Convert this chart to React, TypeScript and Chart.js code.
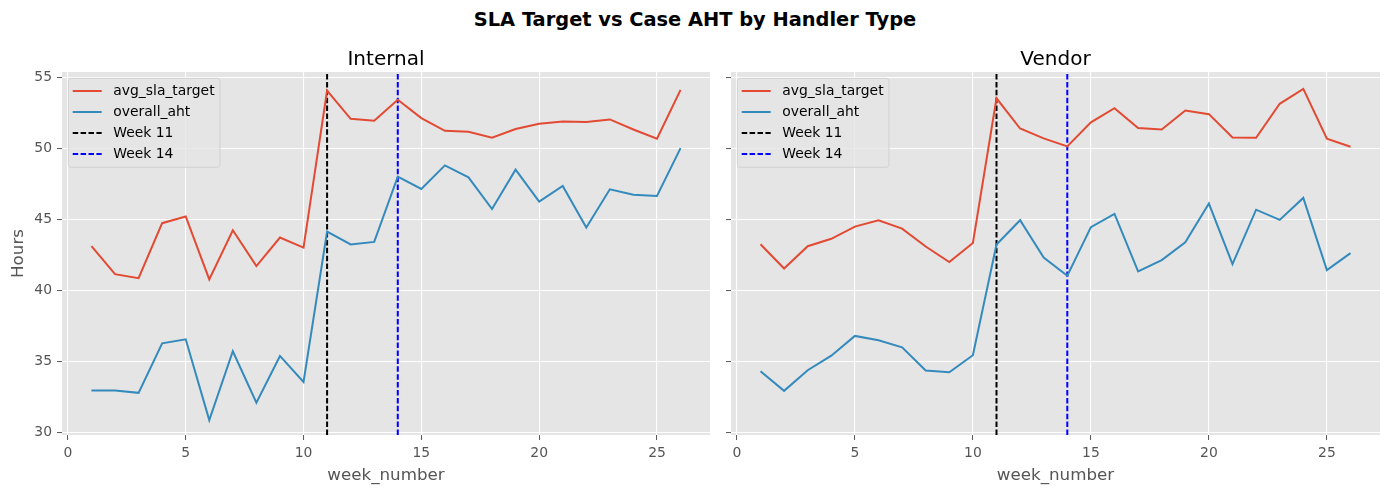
import React, { useRef, useEffect } from 'react';
import Chart from 'chart.js/auto';

// weekly values
const weeks = [1, 2, 3, 4, 5, 6, 7, 8, 9, 10, 11, 12, 13, 14, 15, 16, 17, 18, 19, 20, 21, 22, 23, 24, 25, 26];

const internalSla = [43.1, 41.13, 40.85, 44.72, 45.19, 40.76, 44.22, 41.7, 43.71, 43.0, 54.06, 52.07, 51.93, 53.41,
  52.12, 51.23, 51.16, 50.74, 51.35, 51.72, 51.89, 51.84, 52.03, 51.32, 50.67, 54.11];
const internalAht = [32.93, 32.93, 32.77, 36.26, 36.54, 30.85, 35.7, 32.07, 35.37, 33.54, 44.13, 43.22, 43.4, 48.0,
  47.13, 48.79, 47.95, 45.72, 48.49, 46.24, 47.34, 44.41, 47.11, 46.73, 46.64, 50.01];

const vendorSla = [43.24, 41.53, 43.1, 43.62, 44.48, 44.93, 44.34, 43.08, 41.98, 43.33, 53.52, 51.39, 50.69, 50.13,
  51.82, 52.82, 51.42, 51.32, 52.66, 52.4, 50.76, 50.74, 53.13, 54.18, 50.67, 50.1];
const vendorAht = [34.29, 32.91, 34.36, 35.39, 36.78, 36.47, 35.98, 34.34, 34.22, 35.42, 43.22, 44.93, 42.3, 41.02,
  44.44, 45.37, 41.32, 42.12, 43.38, 46.1, 41.84, 45.67, 44.95, 46.5, 41.42, 42.61];

const xTicks = [0, 5, 10, 15, 20, 25];
const yTicks = [30, 35, 40, 45, 50, 55];

const markerWeeks = [11, 14];
const markerLabels = ['Week 11', 'Week 14'];
const markerColors = ['#000000', '#0000FF'];

const X_MIN = -0.25;
const X_MAX = 27.25;
const Y_MIN = 29.8;
const Y_MAX = 55.37;

const FONT = 'DejaVu Sans';

const decorPlugin = (title: string, showYTitle: boolean) => ({
  id: 'decor',
  beforeDraw(chart: any) {
    const { ctx, chartArea: a } = chart;
    ctx.save();
    ctx.fillStyle = '#E5E5E5';
    ctx.fillRect(a.left, a.top, a.right - a.left, a.bottom - a.top);
    ctx.restore();
  },
  afterDraw(chart: any) {
    const { ctx, chartArea: a } = chart;
    const cx = (a.left + a.right) / 2;
    ctx.save();
    ctx.textAlign = 'center';
    ctx.textBaseline = 'middle';

    // panel title
    ctx.fillStyle = '#000';
    ctx.font = `20px "${FONT}"`;
    ctx.fillText(title, cx, 59.5);

    // axis labels
    ctx.fillStyle = '#555555';
    ctx.font = `16.7px "${FONT}"`;
    ctx.fillText('week_number', cx, 475.5);
    if (showYTitle) {
      ctx.save();
      ctx.translate(19, (a.top + a.bottom) / 2);
      ctx.rotate(-Math.PI / 2);
      ctx.fillText('Hours', 0, 0);
      ctx.restore();
    }

    // legend inside the axes, top left
    const lx = a.left + 6.3;
    const ly = a.top + 6.3;
    const w = 151.7;
    const h = 89;
    ctx.beginPath();
    ctx.roundRect(lx, ly, w, h, 3);
    ctx.fillStyle = 'rgba(229,229,229,0.8)';
    ctx.fill();
    ctx.strokeStyle = 'rgba(204,204,204,0.8)';
    ctx.lineWidth = 1;
    ctx.stroke();

    ctx.textAlign = 'left';
    ctx.font = `13.9px "${FONT}"`;
    chart.data.datasets.forEach((ds: any, i: number) => {
      const y = a.top + 19 + i * 21;
      ctx.beginPath();
      ctx.setLineDash(ds.borderDash || []);
      ctx.strokeStyle = ds.borderColor;
      ctx.lineWidth = 2;
      ctx.moveTo(a.left + 10.7, y);
      ctx.lineTo(a.left + 39.7, y);
      ctx.stroke();
      ctx.setLineDash([]);
      ctx.fillStyle = '#000';
      ctx.fillText(ds.label, a.left + 51.3, y + 0.5);
    });
    ctx.restore();
  },
});

const Panel = ({ title, sla, aht, showYLabels, width, left }: any) => {
  const canvasRef = useRef<any>(null);
  const chartRef = useRef<any>(null);

  useEffect(() => {
    if (chartRef.current) {
      chartRef.current.destroy();
    }
    const yAxisWidth = showYLabels ? 62 : 11;

    const datasets: any[] = [
      {
        label: 'avg_sla_target',
        data: weeks.map((w, i) => ({ x: w, y: sla[i] })),
        borderColor: '#E24A33',
        borderWidth: 2,
      },
      {
        label: 'overall_aht',
        data: weeks.map((w, i) => ({ x: w, y: aht[i] })),
        borderColor: '#348ABD',
        borderWidth: 2,
      },
      ...markerWeeks.map((wk, i) => ({
        label: markerLabels[i],
        data: [{ x: wk, y: Y_MIN }, { x: wk, y: Y_MAX }],
        borderColor: markerColors[i],
        borderWidth: 2,
        borderDash: [5.5, 2.4],
      })),
    ];

    const ctx = canvasRef.current.getContext('2d');
    chartRef.current = new Chart(ctx, {
      type: 'line',
      data: { datasets },
      options: {
        animation: false,
        responsive: false,
        devicePixelRatio: 1,
        layout: { padding: { left: 0, top: 72, right: 10, bottom: 0 } },
        elements: { point: { radius: 0, hoverRadius: 0 }, line: { tension: 0 } },
        plugins: {
          legend: { display: false },
          tooltip: { enabled: false },
          title: { display: false },
        },
        scales: {
          x: {
            type: 'linear',
            min: X_MIN,
            max: X_MAX,
            afterBuildTicks: (s: any) => { s.ticks = xTicks.map((v) => ({ value: v })); },
            afterFit: (s: any) => { s.height = 59; },
            grid: { color: '#FFFFFF', lineWidth: 1.1, tickLength: 5, tickColor: '#555555', tickWidth: 1 },
            border: { display: false },
            ticks: { color: '#555555', font: { family: FONT, size: 13.9 }, padding: 5, maxRotation: 0 },
          },
          y: {
            type: 'linear',
            min: Y_MIN,
            max: Y_MAX,
            afterBuildTicks: (s: any) => { s.ticks = yTicks.map((v) => ({ value: v })); },
            afterFit: (s: any) => { s.width = yAxisWidth; },
            grid: { color: '#FFFFFF', lineWidth: 1.1, tickLength: 5, tickColor: '#555555', tickWidth: 1 },
            border: { display: false },
            ticks: { display: showYLabels, color: '#555555', font: { family: FONT, size: 13.9 }, padding: 5 },
          },
        },
      },
      plugins: [decorPlugin(title, showYLabels)],
    } as any);

    return () => {
      chartRef.current.destroy();
      chartRef.current = null;
    };
  }, [title, sla, aht, showYLabels]);

  return (
    <canvas
      ref={canvasRef}
      width={width}
      height={494}
      style={{ position: 'absolute', left, top: 0, width, height: 494 }}
    ></canvas>
  );
};

const App = () => {
  return (
    <div style={{ position: 'absolute', left: 0, top: 0, width: 1390, height: 494, background: '#fff' }}>
      <div
        style={{
          position: 'absolute',
          left: 0,
          top: 7.5,
          width: 1390,
          textAlign: 'center',
          font: `bold 19.4px "${FONT}"`,
          lineHeight: '24px',
          color: '#000',
        }}
      >
        SLA Target vs Case AHT by Handler Type
      </div>
      <Panel title="Internal" sla={internalSla} aht={internalAht} showYLabels={true} width={720} left={0} />
      <Panel title="Vendor" sla={vendorSla} aht={vendorAht} showYLabels={false} width={670} left={720} />
    </div>
  );
};

export default App;
